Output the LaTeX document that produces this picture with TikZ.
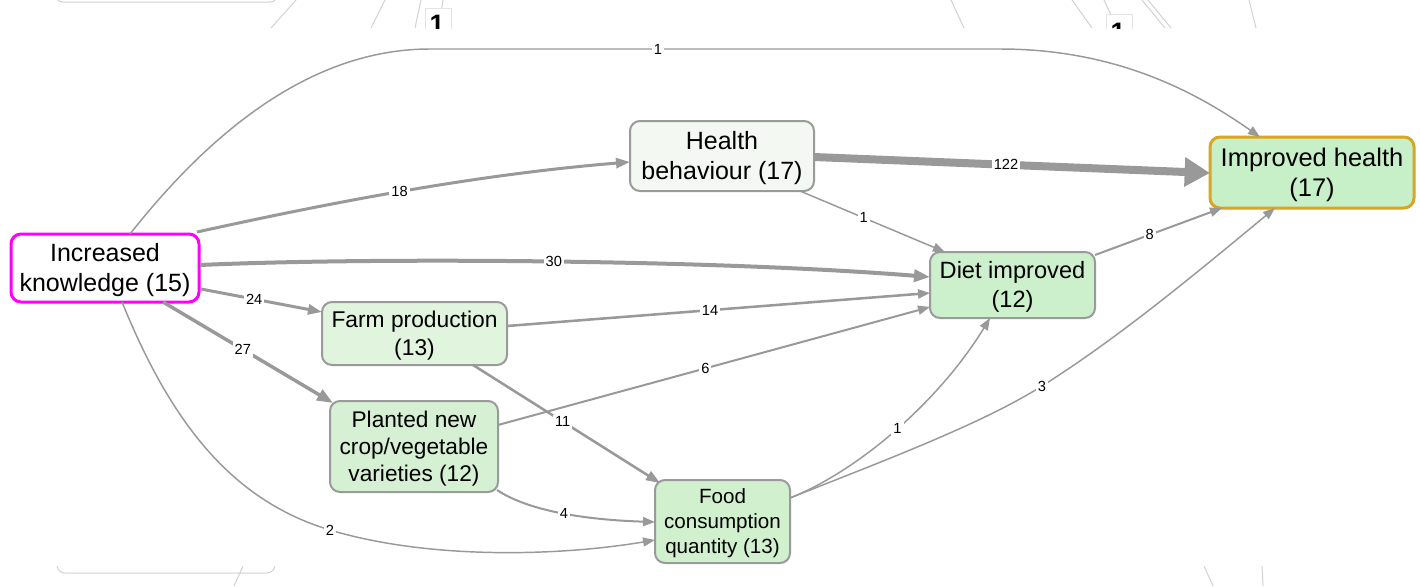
\documentclass[tikz,border=0pt]{standalone}
\usepackage{fontspec}
\setmainfont{Liberation Sans}
\usetikzlibrary{arrows.meta,calc}
\definecolor{edgegrey}{HTML}{999999}
\definecolor{bordergrey}{HTML}{9A9A9A}
\definecolor{magentaB}{HTML}{FF00FF}
\definecolor{goldB}{HTML}{DAA520}
\definecolor{fillHB}{HTML}{F3F9F2}
\definecolor{fillIH}{HTML}{C8F0C8}
\definecolor{fillDI}{HTML}{CCEFCC}
\definecolor{fillFP}{HTML}{E0F4DE}
\definecolor{fillPN}{HTML}{D6F0D3}
\definecolor{fillFC}{HTML}{D0F0CE}
\definecolor{faint}{HTML}{D2D2D2}
\newcommand\lowtext[2]{\raisebox{-1.6pt}[\height][\depth]{\parbox{#1}{\centering #2}}}
\begin{document}
\begin{tikzpicture}[x=0.75pt,y=-0.75pt,
 box/.style={draw=bordergrey, line width=1.5pt, rounded corners=7.5pt, align=center, inner sep=0pt},
 conn/.style={draw=edgegrey, line width=#1},
 tipS/.style={-{Triangle[length=9pt,width=6.75pt]}},
 tipM/.style={-{Triangle[length=10.5pt,width=7.5pt]}},
 tipL/.style={-{Triangle[length=12pt,width=9pt]}},
 tipXL/.style={-{Triangle[length=19pt,width=21pt]}},
 lbl/.style={fill=white, inner sep=1.5pt, font=\fontsize{11}{12}\selectfont, text=black},
 fline/.style={draw=faint, line width=0.75pt},
 ]
\useasboundingbox (0,0) rectangle (1420,586);
\fill[white] (0,0) rectangle (1420,586);

% faint background remnants
\begin{scope}
\clip (0,0) rectangle (1420,28);
\draw[fline, rounded corners=6pt] (55,-60) rectangle (278,2);
\draw[fline] (296,0) -- (271,28);
\draw[fline] (385,0) -- (371,28);
\draw[fline] (421,0) -- (415,28);
\draw[fline] (443,0) -- (439,28);
\draw[fline] (951,0) -- (964,28);
\draw[fline] (1072,0) -- (1092,28);
\draw[fline] (1104,0) -- (1117,28);
\draw[fline] (1142,0) -- (1165,28);
\draw[fline] (1148,0) -- (1171,28);
\draw[fline] (1249,0) -- (1256,28);
\draw[draw=faint!60, fill=white, line width=0.5pt] (425,8) rectangle (451,40);
\node[anchor=base, inner sep=0pt, font=\bfseries\fontsize{20}{20}\selectfont] (art1) at (437,33) {1};
\draw[draw=faint!60, fill=white, line width=0.5pt] (1106,14) rectangle (1132,40);
\node[anchor=base, inner sep=0pt, font=\bfseries\fontsize{20}{20}\selectfont] (art2) at (1118,41) {1};
\end{scope}
\begin{scope}
\clip (0,566) rectangle (1420,586);
\draw[fline, rounded corners=6pt] (57,480) rectangle (275,573);
\draw[fline] (243,566) -- (234,586);
\draw[fline] (1204,566) -- (1213,586);
\draw[fline] (1262,566) -- (1263,586);
\end{scope}

% nodes
\node[box, draw=magentaB, line width=2.25pt, fill=white, minimum width=141pt, minimum height=51pt,
  font=\fontsize{18.75}{22.5}\selectfont] (ik) at (105,268) {\lowtext{135pt}{Increased\\knowledge (15)}};
\node[box, fill=fillHB, minimum width=138pt, minimum height=52.5pt,
  font=\fontsize{18.75}{22.5}\selectfont] (hb) at (722,156) {\lowtext{132pt}{Health\\behaviour (17)}};
\node[box, draw=goldB, line width=2.25pt, fill=fillIH, minimum width=153pt, minimum height=53.25pt,
  font=\fontsize{19.1}{22.8}\selectfont] (ih) at (1312,172.5) {\lowtext{148pt}{Improved health\\(17)}};
\node[box, fill=fillDI, minimum width=123.75pt, minimum height=49.5pt,
  font=\fontsize{17.7}{21.5}\selectfont] (di) at (1012.5,285) {\lowtext{118pt}{Diet improved\\(12)}};
\node[box, fill=fillFP, minimum width=138.75pt, minimum height=47.25pt,
  font=\fontsize{17.1}{20.7}\selectfont] (fp) at (414.5,333.5) {\lowtext{134pt}{Farm production\\(13)}};
\node[box, fill=fillPN, minimum width=126pt, minimum height=68.25pt,
  font=\fontsize{17}{20.6}\selectfont] (pn) at (414,446.5) {\lowtext{122pt}{Planted new\\crop/vegetable\\varieties (12)}};
\node[box, fill=fillFC, minimum width=101.25pt, minimum height=62.25pt,
  font=\fontsize{15.45}{18.75}\selectfont] (fc) at (722.5,521.5) {\lowtext{97pt}{Food\\consumption\\quantity (13)}};

% connectors
\draw[conn=1.1pt, tipS] ($(ik)+(25,-34)$) .. controls (220,120) and (320,49) .. (430,49)
  -- node[lbl, pos=0.4] (l1) {1} (1000,49) .. controls (1120,49) and (1200,95) .. ($(ih)+(-52,-35.5)$);
\draw[conn=2.25pt, tipM] ($(ik)+(92,-36)$) .. controls (320,205) and (470,175) .. node[lbl, pos=0.5] (l18) {18} ($(hb)+(-92,6)$);
\draw[conn=3pt, tipL] ($(ik)+(95,-3)$) .. controls (380,257) and (720,260) .. node[lbl, pos=0.5] (l30) {30} ($(di)+(-82.5,-8)$);
\draw[conn=2.25pt, tipM] ($(ik)+(96,21)$) -- node[lbl, pos=0.44] (l24) {24} ($(fp)+(-92.5,-21.5)$);
\draw[conn=2.6pt, tipL] ($(ik)+(58,34)$) -- node[lbl, pos=0.47] (l27) {27} ($(pn)+(-81,-43.5)$);
\draw[conn=1.1pt, tipS] ($(ik)+(17,34)$) .. controls (170,420) and (230,500) .. (330,530)
  node[lbl] (l2) {2} .. controls (430,560) and (560,556) .. ($(fc)+(-67.5,18.5)$);
\draw[conn=6pt, tipXL] ($(hb)+(92,1)$) -- node[lbl, pos=0.485] (l122) {122} ($(ih)+(-102,0.5)$);
\draw[conn=1.1pt, tipS] ($(hb)+(78,35)$) -- node[lbl, pos=0.44] (l1b) {1} ($(di)+(-67.5,-33)$);
\draw[conn=1.5pt, tipS] ($(di)+(82.5,-30)$) -- node[lbl, pos=0.43] (l8) {8} ($(ih)+(-90,35.5)$);
\draw[conn=1.9pt, tipS] ($(fp)+(92.5,-7.5)$) -- node[lbl, pos=0.48] (l14) {14} ($(di)+(-82.5,8)$);
\draw[conn=1.9pt, tipM] ($(fp)+(58.5,31.5)$) -- node[lbl, pos=0.48] (l11) {11} ($(fc)+(-62.5,-38.5)$);
\draw[conn=1.5pt, tipS] ($(pn)+(84,-21.5)$) -- node[lbl, pos=0.48] (l6) {6} ($(di)+(-82.5,22)$);
\draw[conn=1.5pt, tipS] ($(pn)+(83,43.5)$) .. controls (530,512) and (590,520) .. node[lbl, pos=0.5] (l4) {4} ($(fc)+(-67.5,0.5)$);
\draw[conn=1.1pt, tipS] ($(fc)+(67.5,-23.5)$) .. controls (860,470) and (940,400) .. node[lbl, pos=0.5] (l1c) {1} ($(di)+(-22.5,33)$);
\draw[conn=1.1pt, tipS] ($(fc)+(67.5,-23.5)$) .. controls (880,462) and (980,425) .. (1042,386)
  node[lbl] (l3) {3} .. controls (1120,337) and (1200,270) .. ($(ih)+(-37,35.5)$);
\end{tikzpicture}
\end{document}
